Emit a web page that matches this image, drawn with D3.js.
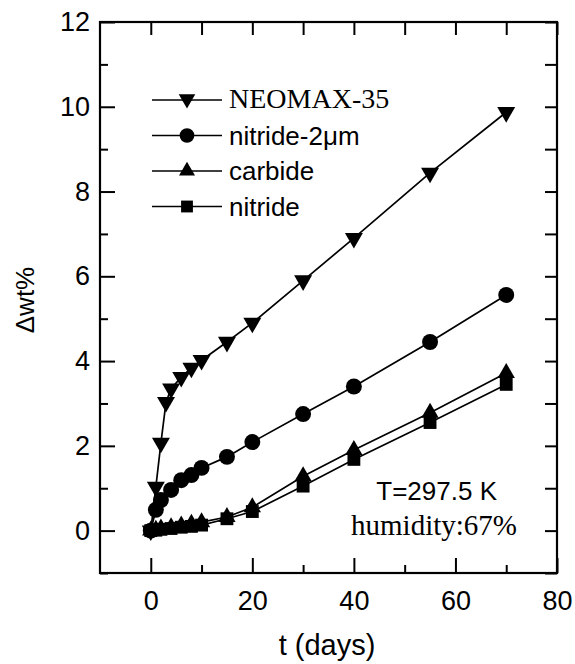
<!DOCTYPE html>
<head>
  <meta charset="utf-8">
  <script src="https://d3js.org/d3.v7.min.js"></script>
  <style>
    body { margin:0; background:#fff; }
    text { fill:#000; }
  </style>
</head>
<body>
<script>
// series data (t in days, weight gain in wt%)
var neoDays   = [0, 1, 2, 3, 4, 6, 8, 10, 15, 20, 30, 40, 55, 70];
var neoWt     = [0, 1.03, 2.07, 3.03, 3.35, 3.62, 3.84, 4.02, 4.45, 4.9, 5.9, 6.9, 8.44, 9.87];
var nit2Days  = [0, 1, 2, 4, 6, 8, 10, 15, 20, 30, 40, 55, 70];
var nit2Wt    = [0, 0.49, 0.72, 0.96, 1.19, 1.31, 1.48, 1.74, 2.09, 2.75, 3.4, 4.45, 5.56];
var carbDays  = [0, 1, 2, 4, 6, 8, 10, 15, 20, 30, 40, 55, 70];
var carbWt    = [0, 0.02, 0.05, 0.08, 0.12, 0.16, 0.2, 0.32, 0.55, 1.28, 1.9, 2.78, 3.72];
var nitDays   = [0, 1, 2, 4, 6, 8, 10, 15, 20, 30, 40, 55, 70];
var nitWt     = [0, 0.01, 0.03, 0.05, 0.08, 0.1, 0.13, 0.28, 0.45, 1.05, 1.68, 2.55, 3.45];
var seriesNames = ["NEOMAX-35", "nitride-2\u03bcm", "carbide", "nitride"];
var xMajor = [0, 20, 40, 60, 80];
var xMinor = [10, 30, 50, 70];
var yMajor = [0, 2, 4, 6, 8, 10, 12];
var yMinor = [-1, 1, 3, 5, 7, 9, 11];

var W = 575, H = 664;
// plot frame (window.top is reserved, so use own names)
var pL = 100, pR = 557, pT = 22, pB = 573;

var svg = d3.select("body").append("svg")
  .attr("width", W).attr("height", H);

var x = d3.scaleLinear().domain([-10, 80]).range([pL, pR]);
var y = d3.scaleLinear().domain([-1, 12]).range([pB, pT]);

var sans = "Arial, 'Liberation Sans', sans-serif";
var serif = "'Times New Roman', 'Liberation Serif', serif";

function zip(xs, ys) { return xs.map(function(d, i) { return {x: d, y: ys[i]}; }); }

var series = [
  {name: seriesNames[0], pts: zip(neoDays, neoWt), sym: d3.symbolTriangle, size: 140, rot: 180, font: serif, fs: 28},
  {name: seriesNames[1], pts: zip(nit2Days, nit2Wt), sym: d3.symbolCircle, size: 200, rot: 0, font: sans, fs: 26},
  {name: seriesNames[2], pts: zip(carbDays, carbWt), sym: d3.symbolTriangle, size: 130, rot: 0, font: sans, fs: 26},
  {name: seriesNames[3], pts: zip(nitDays, nitWt), sym: d3.symbolSquare, size: 165, rot: 0, font: sans, fs: 26}
];

function styleAxis(g) {
  g.select(".domain").remove();
  g.selectAll("line").attr("stroke", "#000").attr("stroke-width", 2);
  g.selectAll("text").attr("font-family", sans).attr("font-size", 27).attr("fill", "#000");
}
svg.append("g").attr("transform", "translate(0," + pB + ")")
  .call(d3.axisBottom(x).tickValues(xMajor).tickSize(-15).tickPadding(18).tickFormat(d3.format("d")))
  .call(styleAxis);
svg.append("g").attr("transform", "translate(0," + pB + ")")
  .call(d3.axisBottom(x).tickValues(xMinor).tickSize(-8).tickFormat(""))
  .call(styleAxis);
svg.append("g").attr("transform", "translate(0," + pT + ")")
  .call(d3.axisTop(x).tickValues(xMajor.concat(xMinor)).tickSize(-13).tickFormat(""))
  .call(styleAxis);
svg.append("g").attr("transform", "translate(" + pL + ",0)")
  .call(d3.axisLeft(y).tickValues(yMajor).tickSize(-15).tickPadding(10).tickFormat(d3.format("d")))
  .call(styleAxis);
svg.append("g").attr("transform", "translate(" + pL + ",0)")
  .call(d3.axisLeft(y).tickValues(yMinor).tickSize(-8).tickFormat(""))
  .call(styleAxis);
svg.append("g").attr("transform", "translate(" + pR + ",0)")
  .call(d3.axisRight(y).tickValues(yMajor.concat(yMinor)).tickSize(-12).tickFormat(""))
  .call(styleAxis);

// frame
svg.append("rect")
  .attr("x", pL).attr("y", pT)
  .attr("width", pR - pL).attr("height", pB - pT)
  .attr("fill", "none").attr("stroke", "#000").attr("stroke-width", 2.2);

// lines + markers
var line = d3.line().x(function(d) { return x(d.x); }).y(function(d) { return y(d.y); });
series.forEach(function(s) {
  svg.append("path").datum(s.pts)
    .attr("d", line).attr("fill", "none")
    .attr("stroke", "#000").attr("stroke-width", 1.7);
  svg.selectAll(null).data(s.pts).enter().append("path")
    .attr("d", d3.symbol().type(s.sym).size(s.size))
    .attr("transform", function(d) { return "translate(" + x(d.x) + "," + y(d.y) + ") rotate(" + s.rot + ")"; })
    .attr("fill", "#000");
});

// legend
var legY = [100, 135.5, 171, 206.5];
series.forEach(function(s, i) {
  var g = svg.append("g").attr("transform", "translate(0," + legY[i] + ")");
  g.append("line").attr("x1", 152).attr("x2", 222).attr("y1", 0).attr("y2", 0)
    .attr("stroke", "#000").attr("stroke-width", 1.6);
  g.append("path").attr("d", d3.symbol().type(s.sym).size(s.size * 0.85))
    .attr("transform", "translate(187," + (s.rot ? -1 : 0) + ") rotate(" + s.rot + ")")
    .attr("fill", "#000");
  g.append("text").attr("x", 229).attr("y", s.font === serif ? 8 : 9)
    .attr("font-family", s.font).attr("font-size", s.fs).text(s.name);
});

// annotations
svg.append("text").attr("x", 497).attr("y", 500).attr("text-anchor", "end")
  .attr("font-family", sans).attr("font-size", 26).text("T=297.5 K");
svg.append("text").attr("x", 517).attr("y", 535).attr("text-anchor", "end")
  .attr("font-family", serif).attr("font-size", 29).text("humidity:67%");

// axis titles
svg.append("text").attr("x", 327).attr("y", 655).attr("text-anchor", "middle")
  .attr("font-family", sans).attr("font-size", 29).text("t (days)");
svg.append("text").attr("transform", "translate(34,300) rotate(-90)")
  .attr("text-anchor", "middle")
  .attr("font-family", sans).attr("font-size", 26).text("\u0394wt%");
</script>
</body>
</html>
